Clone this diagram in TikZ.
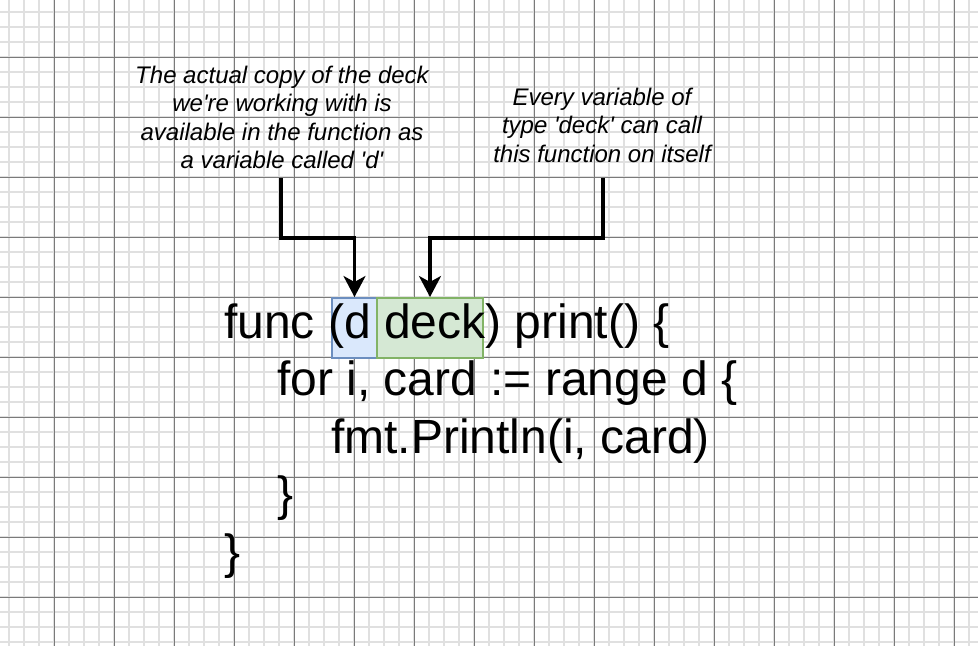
\documentclass[tikz,border=0pt]{standalone}
\usepackage{fontspec}
\setmainfont{Liberation Sans}
\usetikzlibrary{arrows.meta}
\definecolor{gridminor}{HTML}{E0E0E0}
\definecolor{gridmajor}{HTML}{7A7A7A}
\definecolor{dfill}{HTML}{DAE8FC}
\definecolor{dline}{HTML}{6C8EBF}
\definecolor{tfill}{HTML}{D5E8D4}
\definecolor{tline}{HTML}{82B366}
\newcommand{\sq}{\textquotesingle}
\begin{document}
\begin{tikzpicture}[x=1pt,y=-1pt,
  minorline/.style={draw=gridminor, line width=1.6pt},
  majorline/.style={draw=gridmajor, line width=0.9pt},
  note/.style={inner sep=0pt, anchor=base, font=\fontsize{24}{28.5}\selectfont\itshape},
  code/.style={inner sep=0pt, anchor=base west, font=\fontsize{48}{57.5}\selectfont},
  hl/.style={draw, line width=2pt, inner sep=0pt, minimum height=60pt},
  pointer/.style={line width=3.2pt, -{Stealth[length=21pt,width=22pt,inset=6pt]}}]
% canvas
\useasboundingbox (0,0) rectangle (978,646);
\fill[white] (0,0) rectangle (978,646);
% background grid: fine lines every 15, strong lines every 60
\foreach \gx in {9,24,...,978} {\draw[minorline] (\gx,0) -- (\gx,646);}
\foreach \gy in {12,27,...,646} {\draw[minorline] (0,\gy) -- (978,\gy);}
\foreach \gx in {54,114,...,978} {\draw[majorline] (\gx,0) -- (\gx,646);}
\foreach \gy in {57,117,...,646} {\draw[majorline] (0,\gy) -- (978,\gy);}

% highlighted receiver parts
\node[hl, draw=dline, fill=dfill, minimum width=45pt] (dbox) at (354.5,328) {};
\node[hl, draw=tline, fill=tfill, minimum width=106pt] (tbox) at (430,328) {};

% the Go source
\node[code] (src) at (224,338) {\begin{tabular}[t]{@{}l@{}}
func (d deck) print() \{\\
\hspace*{53pt}for i, card := range d \{\\
\hspace*{107pt}fmt.Println(i, card)\\
\hspace*{53pt}\}\\
\}
\end{tabular}};

% explanations
\node[note] (noteD) at (282,83) {\begin{tabular}[t]{@{}c@{}}
The actual copy of the deck\\
we\sq re working with is\\
available in the function as\\
a variable called \sq d\sq
\end{tabular}};
\node[note] (noteT) at (602,105) {\begin{tabular}[t]{@{}c@{}}
Every variable of\\
type \sq deck\sq{} can call\\
this function on itself
\end{tabular}};

% pointers from the explanations to the receiver
\coordinate (srcL) at (281,178);
\coordinate (srcR) at (603,178);
\coordinate (elbow) at (0,238);
\draw[pointer] (srcL) -- (srcL |- elbow) -| (dbox.north);
\draw[pointer] (srcR) -- (srcR |- elbow) -| (tbox.north);
\end{tikzpicture}
\end{document}
